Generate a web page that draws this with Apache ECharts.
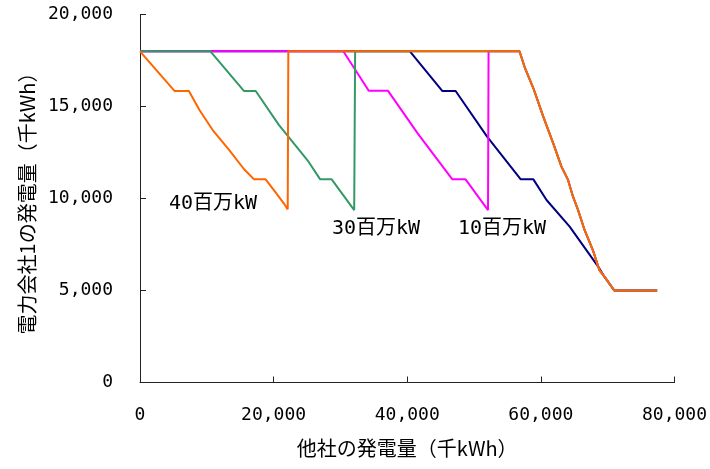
<!DOCTYPE html>
<html>
<head>
<meta charset="utf-8">
<script src="https://cdn.jsdelivr.net/npm/echarts@6/dist/echarts.min.js"></script>
<style>
  html, body { margin: 0; padding: 0; background: #fff; }
  #chart { width: 710px; height: 469px; }
</style>
</head>
<body>
<div id="chart"></div>
<script>
// Axis tick labels
const xTickLabels = ['0', '20,000', '40,000', '60,000', '80,000'];
const yTickLabels = ['0', '5,000', '10,000', '15,000', '20,000'];

// Shared descent at the right end (other companies' output vs. company 1 output)
const commonTail = [
  [56800, 18000], [57630, 17080], [58880, 15990], [60360, 14450], [61850, 13000],
  [63080, 11730], [64070, 11010], [64810, 10100], [65560, 9380], [66540, 8290],
  [67780, 7200], [68760, 6110], [69510, 5750], [70990, 5000], [77400, 5000]
];

// Base case (no label)
const baseCase = [
  [0, 18000], [40400, 18000], [45270, 15840], [47240, 15840], [51950, 13360],
  [56990, 11040], [58880, 11040], [60850, 9920], [64310, 8470], [68760, 6200],
  [69510, 5750], [70990, 5000], [77400, 5000]
];

// 10百万kW
const cap10Head = [
  [0, 18000], [30430, 18000], [34240, 15860], [37100, 15860], [41560, 13540],
  [46750, 11040], [48730, 11040], [52090, 9370], [52170, 18000]
];

// 30百万kW
const cap30Head = [
  [0, 18000], [10540, 18000], [15580, 15840], [17320, 15840], [20780, 14000],
  [25230, 12000], [26970, 11040], [28690, 11040], [32060, 9370], [32200, 18000]
];

// 40百万kW
const cap40Head = [
  [0, 18000], [5190, 15840], [7320, 15840], [8900, 14810], [10880, 13720],
  [13360, 12630], [15580, 11590], [17070, 11040], [18800, 11040], [20040, 10460],
  [21520, 9740], [22110, 9410], [22200, 18000]
];

const FONT = "'DejaVu Sans Mono', 'Noto Sans CJK JP', sans-serif";
const CJK = "'Noto Sans CJK JP', sans-serif";

function lineSeries(name, data, color) {
  return {
    name: name,
    type: 'line',
    data: data,
    showSymbol: false,
    symbol: 'none',
    animation: false,
    lineStyle: { color: color, width: 2 },
    itemStyle: { color: color }
  };
}

function labelFrom(list, step) {
  return function (v) {
    const i = Math.round(v / step);
    return list[i] !== undefined ? list[i] : '';
  };
}

const chart = echarts.init(document.getElementById('chart'), null, { renderer: 'canvas' });

chart.setOption({
  animation: false,
  backgroundColor: '#ffffff',
  grid: { left: 140, right: 31, top: 14.5, bottom: 86.5, containLabel: false },
  xAxis: {
    type: 'value',
    min: 0, max: 80000, interval: 20000,
    name: '他社の発電量（千kWh）',
    nameLocation: 'middle',
    nameGap: 56,
    nameTextStyle: { fontFamily: CJK, fontSize: 20, color: '#000' },
    axisLine: { show: true, onZero: false, lineStyle: { color: '#222', width: 1 } },
    axisTick: { show: true, inside: true, length: 6, lineStyle: { color: '#222' } },
    axisLabel: { margin: 24, fontFamily: FONT, fontSize: 18, color: '#000',
                 formatter: labelFrom(xTickLabels, 20000) },
    splitLine: { show: false }
  },
  yAxis: {
    type: 'value',
    min: 0, max: 20000, interval: 5000,
    name: '電力会社1の発電量（千kWh）',
    nameLocation: 'middle',
    nameGap: 103,
    nameTextStyle: { fontFamily: CJK, fontSize: 20, color: '#000' },
    axisLine: { show: true, lineStyle: { color: '#222', width: 1 } },
    axisTick: { show: true, inside: true, length: 6, lineStyle: { color: '#222' } },
    axisLabel: { margin: 27, fontFamily: FONT, fontSize: 18, color: '#000',
                 formatter: labelFrom(yTickLabels, 5000) },
    splitLine: { show: false }
  },
  series: [
    lineSeries('基準', baseCase, '#000080'),
    lineSeries('10百万kW', cap10Head.concat(commonTail), '#FF00FF'),
    lineSeries('30百万kW', cap30Head.concat(commonTail), '#339966'),
    lineSeries('40百万kW', cap40Head.concat(commonTail), '#FF6600')
  ],
  graphic: [
    { type: 'text', left: 169, top: 194,
      style: { text: '40百万kW', font: "20px " + FONT, fill: '#000' } },
    { type: 'text', left: 332, top: 219,
      style: { text: '30百万kW', font: "20px " + FONT, fill: '#000' } },
    { type: 'text', left: 458, top: 219,
      style: { text: '10百万kW', font: "20px " + FONT, fill: '#000' } }
  ]
});
</script>
</body>
</html>
